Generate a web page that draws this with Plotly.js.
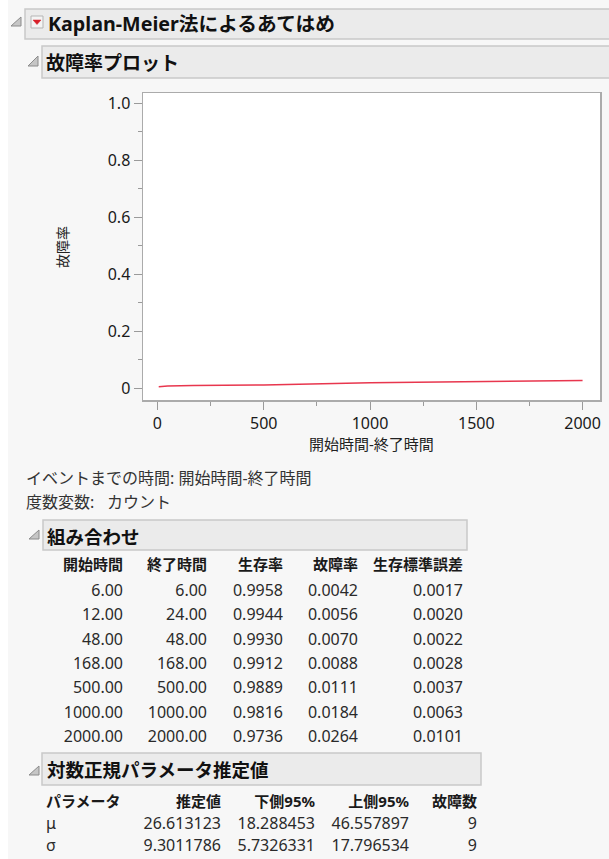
<!DOCTYPE html>
<html>
<head>
<meta charset="utf-8">
<script src="https://cdn.plot.ly/plotly-3.0.1.min.js"></script>
<style>
  html, body { margin: 0; padding: 0; background: #f7f7f7; }
  #chart { width: 609px; height: 859px; }
</style>
</head>
<body>
<div id="chart"></div>
<script>
// ---- data ----
const startTimes = [6, 12, 48, 168, 500, 1000, 2000];
const endTimes = [6, 24, 48, 168, 500, 1000, 2000];
const survival = [0.9958, 0.9944, 0.9930, 0.9912, 0.9889, 0.9816, 0.9736];
const failure = [0.0042, 0.0056, 0.0070, 0.0088, 0.0111, 0.0184, 0.0264];
const survStdErr = [0.0017, 0.0020, 0.0022, 0.0028, 0.0037, 0.0063, 0.0101];
const comboHeaders = ['開始時間', '終了時間', '生存率', '故障率', '生存標準誤差'];

const paramNames = ['μ', 'σ'];
const paramEst = [26.613123, 9.3011786];
const lower95 = [18.288453, 5.7326331];
const upper95 = [46.557897, 17.796534];
const failCount = [9, 9];
const paramHeaders = ['パラメータ', '推定値', '下側95%', '上側95%', '故障数'];

const yTickVals = [0, 0.2, 0.4, 0.6, 0.8, 1.0];
const yTickText = ['0', '0.2', '0.4', '0.6', '0.8', '1.0'];
const xTickVals = [0, 500, 1000, 1500, 2000];
const xTickText = ['0', '500', '1000', '1500', '2000'];

const reportTitle = 'Kaplan-Meier法によるあてはめ';
const plotTitle = '故障率プロット';
const yTitle = '故障率';
const xTitle = '開始時間-終了時間';
const infoLine1 = 'イベントまでの時間: 開始時間-終了時間';
const infoLine2a = '度数変数:';
const infoLine2b = 'カウント';
const comboTitle = '組み合わせ';
const paramTitle = '対数正規パラメータ推定値';

// ---- layout helpers (pixel -> paper) ----
const W = 609, H = 859;
const px = x => x / W;
const py = y => 1 - y / H;
const FONT = 'Noto Sans, Noto Sans CJK JP, sans-serif';
const BG = '#f7f7f7';
const CLEAR = 'rgba(0,0,0,0)';

function box(x0, y0, x1, y1) {
  return { type: 'rect', xref: 'paper', yref: 'paper', x0: px(x0), x1: px(x1), y0: py(y1), y1: py(y0),
           fillcolor: '#ebebeb', line: { color: '#c9c9c9', width: 1.5 }, layer: 'below' };
}
function tri(x0, y0, x1, y1) {
  const p = `M ${px(x0)} ${py(y1)} L ${px(x1)} ${py(y1)} L ${px(x1)} ${py(y0)} Z`;
  return { type: 'path', xref: 'paper', yref: 'paper', path: p,
           fillcolor: '#c6c6c6', line: { color: '#8c8c8c', width: 1 } };
}
function label(text, x, y, size, bold, color, extra) {
  return Object.assign({ xref: 'paper', yref: 'paper', x: px(x), y: py(y), xanchor: 'left', yanchor: 'middle',
           showarrow: false, text: bold ? '<b>' + text + '</b>' : text,
           font: { family: FONT, size: size, color: color || '#1a1a1a' } }, extra || {});
}

const shapes = [
  { type: 'rect', xref: 'paper', yref: 'paper', x0: 0, x1: px(8), y0: 0, y1: 1,
    fillcolor: '#ffffff', line: { width: 0 }, layer: 'below' },
  box(25, 9, 612, 39),
  box(42, 46, 612, 78),
  box(43, 520, 467, 550),
  box(42, 753, 481, 785),
  tri(11, 17, 21, 26),
  tri(28, 56, 38, 66),
  tri(29, 530, 39, 539),
  tri(29, 766, 39, 775),
  // dropdown icon
  { type: 'rect', xref: 'paper', yref: 'paper', x0: px(31), x1: px(43), y0: py(28), y1: py(16),
    fillcolor: '#f4f4f4', line: { color: '#b5b5b5', width: 1 } },
  { type: 'path', xref: 'paper', yref: 'paper',
    path: `M ${px(33)} ${py(20)} L ${px(41)} ${py(20)} L ${px(37)} ${py(24.5)} Z`,
    fillcolor: '#d8202a', line: { color: '#d8202a', width: 0.5 } }
];

const annotations = [
  label(reportTitle, 46, 24, 19.7, true, '#111'),
  label(plotTitle, 44, 62.5, 19, true, '#111'),
  label(yTitle, 62, 247, 14, false, '#222', { xanchor: 'center', textangle: -90 }),
  label(xTitle, 371, 444, 15, false, '#222', { xanchor: 'center' }),
  label(infoLine1, 24, 478, 16, false, '#333'),
  label(infoLine2a, 24, 502, 16, false, '#333'),
  label(infoLine2b, 105, 502, 16, false, '#333'),
  label(comboTitle, 45, 536, 18.5, true, '#111'),
  label(paramTitle, 45, 769.5, 18.5, true, '#111')
];

const lineTrace = {
  type: 'scatter', mode: 'lines', x: endTimes, y: failure,
  line: { color: '#e8364e', width: 1.5 }, hoverinfo: 'skip', showlegend: false
};

const comboTable = {
  type: 'table',
  domain: { x: [px(43), px(471)], y: [py(752), py(551)] },
  columnwidth: [88, 84, 76, 75, 105],
  header: {
    values: comboHeaders,
    align: 'right', height: 25,
    font: { family: FONT, size: 15, color: '#1a1a1a', weight: 'bold' },
    fill: { color: CLEAR }, line: { width: 0, color: CLEAR }
  },
  cells: {
    values: [startTimes.map(v => v.toFixed(2)), endTimes.map(v => v.toFixed(2)),
             survival.map(v => v.toFixed(4)), failure.map(v => v.toFixed(4)),
             survStdErr.map(v => v.toFixed(4))],
    align: 'right', height: 24.33,
    font: { family: FONT, size: 16, color: '#2a2a2a' },
    fill: { color: CLEAR }, line: { width: 0, color: CLEAR }
  }
};

const paramTable = {
  type: 'table',
  domain: { x: [px(38), px(485)], y: [py(859), py(788)] },
  columnwidth: [92, 99, 94, 94, 68],
  header: {
    values: paramHeaders,
    align: ['left', 'right', 'right', 'right', 'right'], height: 21,
    font: { family: FONT, size: 15, color: '#1a1a1a', weight: 'bold' },
    fill: { color: CLEAR }, line: { width: 0, color: CLEAR }
  },
  cells: {
    values: [paramNames, paramEst.map(v => v.toPrecision(8)), lower95.map(v => v.toPrecision(8)),
             upper95.map(v => v.toPrecision(8)), failCount.map(String)],
    align: ['left', 'right', 'right', 'right', 'right'], height: 22,
    font: { family: FONT, size: 16, color: '#2a2a2a' },
    fill: { color: CLEAR }, line: { width: 0, color: CLEAR }
  }
};

const layout = {
  width: W, height: H,
  margin: { l: 0, r: 0, t: 0, b: 0 },
  paper_bgcolor: BG, plot_bgcolor: '#ffffff',
  showlegend: false,
  font: { family: FONT, color: '#1a1a1a' },
  xaxis: {
    domain: [px(143), px(600)], range: [-68, 2082],
    tickmode: 'array', tickvals: xTickVals, ticktext: xTickText,
    ticks: 'outside', ticklen: 8, tickwidth: 1, tickcolor: '#9a9a9a',
    minor: { tickmode: 'linear', tick0: 0, dtick: 250, ticks: 'outside', ticklen: 4, tickcolor: '#9a9a9a', tickwidth: 1 },
    showline: true, mirror: true, linecolor: '#ababab', linewidth: 1.5,
    showgrid: false, zeroline: false,
    tickfont: { family: FONT, size: 16, color: '#1a1a1a' }
  },
  yaxis: {
    domain: [py(400), py(93)], range: [-0.042, 1.037],
    tickmode: 'array', tickvals: yTickVals, ticktext: yTickText,
    ticks: 'outside', ticklen: 8, tickwidth: 1, tickcolor: '#9a9a9a',
    minor: { tickmode: 'linear', tick0: 0, dtick: 0.1, ticks: 'outside', ticklen: 4, tickcolor: '#9a9a9a', tickwidth: 1 },
    showline: true, mirror: true, linecolor: '#ababab', linewidth: 1.5,
    showgrid: false, zeroline: false,
    tickfont: { family: FONT, size: 16, color: '#1a1a1a' }
  },
  shapes: shapes,
  annotations: annotations
};

Plotly.newPlot('chart', [lineTrace, comboTable, paramTable], layout, { displayModeBar: false, staticPlot: true });
</script>
</body>
</html>
